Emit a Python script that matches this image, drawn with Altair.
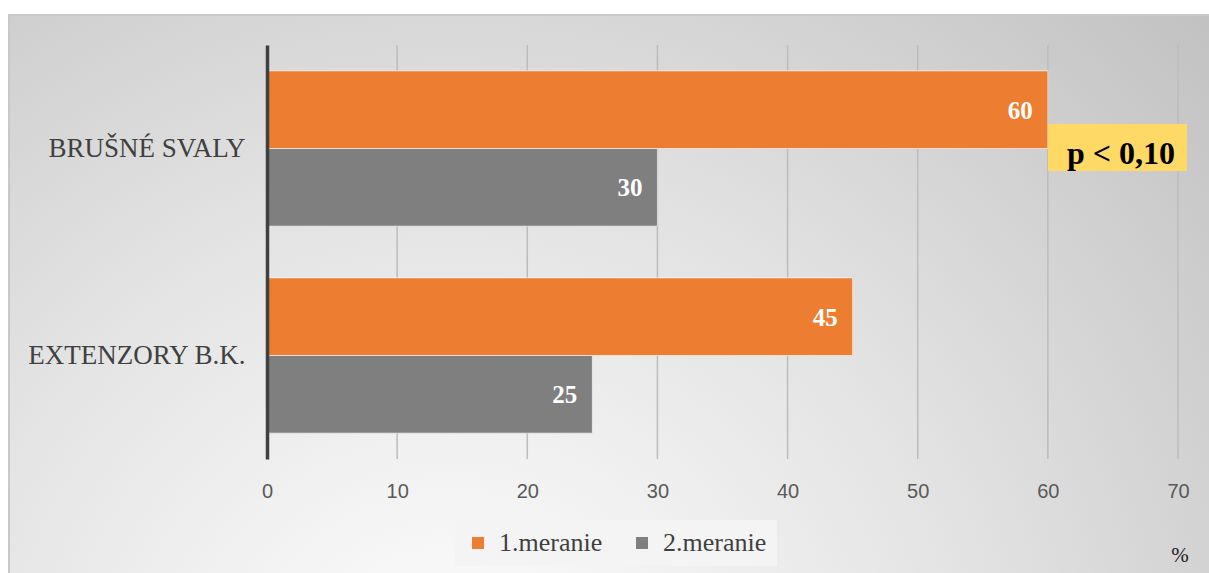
import altair as alt
import pandas as pd

categories = ["BRUŠNÉ SVALY", "BRUŠNÉ SVALY", "EXTENZORY B.K.", "EXTENZORY B.K."]
series = ["1.meranie", "2.meranie", "1.meranie", "2.meranie"]
values = [60, 30, 45, 25]
grid_ticks = [10, 20, 30, 40, 50, 60, 70]
cat_order = ["BRUŠNÉ SVALY", "EXTENZORY B.K."]
series_order = ["1.meranie", "2.meranie"]
colors = ["#ED7D31", "#7F7F7F"]

df = pd.DataFrame({"cat": categories, "series": series, "value": values})
gdf = pd.DataFrame({"t": grid_ticks})

W, H = 911, 414
SERIF = "Liberation Serif"

xscale = alt.Scale(domain=[0, 70], nice=False)
yscale = alt.Scale(domain=cat_order, paddingInner=0.25, paddingOuter=0.125)

bg = alt.Chart(pd.DataFrame({"a": [0]})).mark_rect(
    fill=alt.RadialGradient(
        gradient="radial",
        x1=0.37, y1=0.85, r1=0.0,
        x2=0.37, y2=0.85, r2=0.85,
        stops=[alt.GradientStop(color="#ffffff", offset=0),
               alt.GradientStop(color="#e4e4e4", offset=0.5),
               alt.GradientStop(color="#c2c2c2", offset=1)],
    ),
    stroke="#c8c8c8", strokeWidth=2,
).encode(
    x=alt.value(9 - 267), x2=alt.value(1210 - 267),
    y=alt.value(15 - 45), y2=alt.value(574 - 45),
)

grid = alt.Chart(gdf).mark_rule(color="#bcbcbc", strokeWidth=1.5).encode(
    x=alt.X("t:Q", scale=xscale),
    y=alt.value(0), y2=alt.value(H),
)

base = alt.Chart(df).encode(
    y=alt.Y("cat:N", scale=yscale, sort=cat_order,
            axis=alt.Axis(title=None, ticks=False, domainColor="#404040", domainWidth=3.5,
                          labelFont=SERIF, labelFontSize=27, labelColor="#404040",
                          labelPadding=22, labelLimit=0, zindex=1)),
    yOffset=alt.YOffset("series:N", sort=series_order),
)

bars = base.mark_bar(stroke="#ffffff", strokeOpacity=0.6, strokeWidth=1).encode(
    x=alt.X("value:Q", scale=xscale, stack=None,
            axis=alt.Axis(title=None, values=[0, 10, 20, 30, 40, 50, 60, 70], grid=False,
                          domain=False, ticks=False, labelFont="Liberation Sans",
                          labelFontSize=20, labelColor="#595959", labelPadding=22,
                          labelFlush=False, labelOverlap=False, zindex=1)),
    color=alt.Color("series:N", sort=series_order,
                    scale=alt.Scale(domain=series_order, range=colors),
                    legend=alt.Legend(title=None, orient="none", legendX=188, legendY=475,
                                      direction="horizontal", fillColor="#f4f4f4",
                                      padding=10, symbolType="square", symbolSize=144,
                                      symbolStrokeWidth=0, labelFont=SERIF, labelFontSize=26,
                                      labelColor="#404040", columnPadding=26, labelOffset=8,
                                      symbolOpacity=1)),
)

labels = base.mark_text(align="right", baseline="middle", dx=-15, dy=1,
                        font=SERIF, fontSize=25, fontWeight="bold", color="white").encode(
    x=alt.X("value:Q", scale=xscale, stack=None),
    text=alt.Text("value:Q"),
)

ann_box = alt.Chart(pd.DataFrame({"a": [0]})).mark_rect(color="#FFD966").encode(
    x=alt.value(1048 - 267), x2=alt.value(1187 - 267),
    y=alt.value(124 - 45), y2=alt.value(171 - 45),
)
ann_text = alt.Chart(pd.DataFrame({"a": ["p < 0,10"]})).mark_text(
    font=SERIF, fontSize=32, fontWeight="bold", color="black", align="center", baseline="middle"
).encode(x=alt.value(1121 - 267), y=alt.value(154 - 45), text="a:N")

pct = alt.Chart(pd.DataFrame({"a": ["%"]})).mark_text(
    font=SERIF, fontSize=21, color="#222222", align="center", baseline="middle"
).encode(x=alt.value(1180 - 267), y=alt.value(556 - 45), text="a:N")

chart = alt.layer(bg, grid, bars, labels, ann_box, ann_text, pct).properties(
    width=W, height=H,
    autosize=alt.AutoSizeParams(type="none"),
    padding={"left": 267, "top": 45, "right": 31, "bottom": 114},
    background="white",
).configure_view(stroke=None)

chart.save("out.html", embed_options={"renderer": "svg", "actions": False})
